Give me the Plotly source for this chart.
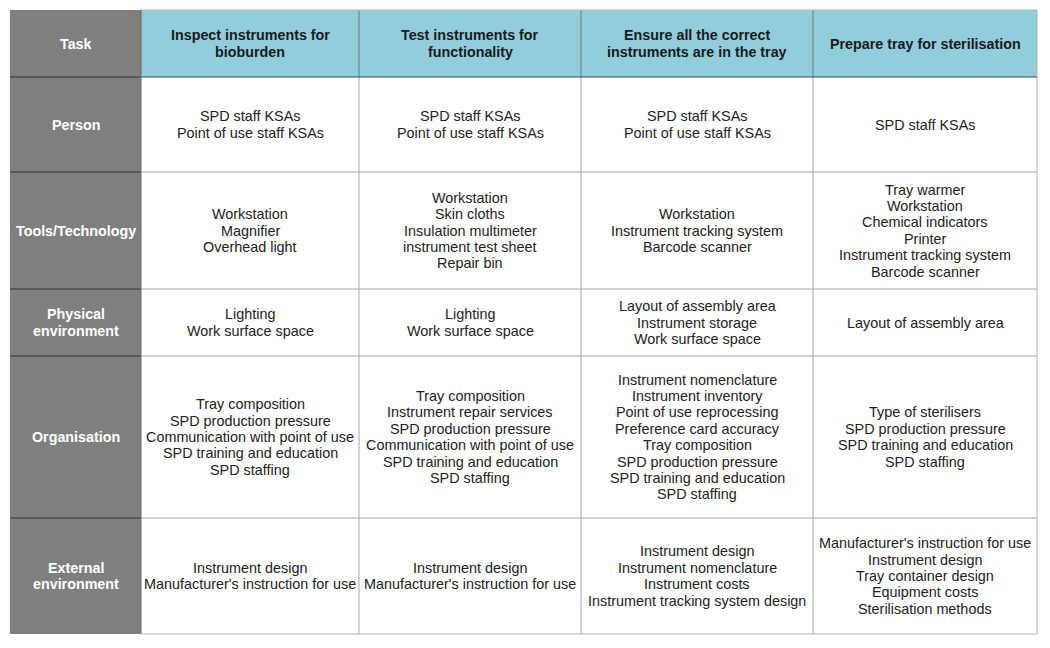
import plotly.graph_objects as go

# ---------------- data ----------------
corner_label = "Task"
tasks = [
    ["Inspect instruments for", "bioburden"],
    ["Test instruments for", "functionality"],
    ["Ensure all the correct", "instruments are in the tray"],
    ["Prepare tray for sterilisation"],
]
factors = [
    ["Person"],
    ["Tools/Technology"],
    ["Physical", "environment"],
    ["Organisation"],
    ["External", "environment"],
]
person = [
    ["SPD staff KSAs", "Point of use staff KSAs"],
    ["SPD staff KSAs", "Point of use staff KSAs"],
    ["SPD staff KSAs", "Point of use staff KSAs"],
    ["SPD staff KSAs"],
]
tools = [
    ["Workstation", "Magnifier", "Overhead light"],
    ["Workstation", "Skin cloths", "Insulation multimeter", "instrument test sheet", "Repair bin"],
    ["Workstation", "Instrument tracking system", "Barcode scanner"],
    ["Tray warmer", "Workstation", "Chemical indicators", "Printer",
     "Instrument tracking system", "Barcode scanner"],
]
physical = [
    ["Lighting", "Work surface space"],
    ["Lighting", "Work surface space"],
    ["Layout of assembly area", "Instrument storage", "Work surface space"],
    ["Layout of assembly area"],
]
organisation = [
    ["Tray composition", "SPD production pressure", "Communication with point of use",
     "SPD training and education", "SPD staffing"],
    ["Tray composition", "Instrument repair services", "SPD production pressure",
     "Communication with point of use", "SPD training and education", "SPD staffing"],
    ["Instrument nomenclature", "Instrument inventory", "Point of use reprocessing",
     "Preference card accuracy", "Tray composition", "SPD production pressure",
     "SPD training and education", "SPD staffing"],
    ["Type of sterilisers", "SPD production pressure", "SPD training and education",
     "SPD staffing"],
]
external = [
    ["Instrument design", "Manufacturer's instruction for use"],
    ["Instrument design", "Manufacturer's instruction for use"],
    ["Instrument design", "Instrument nomenclature", "Instrument costs",
     "Instrument tracking system design"],
    ["Manufacturer's instruction for use", "Instrument design", "Tray container design",
     "Equipment costs", "Sterilisation methods"],
]
body_rows = [person, tools, physical, organisation, external]

# ---------------- layout (pixel-space grid) ----------------
W, H = 1050, 648
OFF = 8  # page body margin
col_edges = [10, 141, 359, 581, 813, 1037]
row_edges = [10, 77, 172, 289, 356, 518, 634]
LINE = 16.4
FONT = "Liberation Sans, Arial, sans-serif"
GRAY = "#7f7f7f"
BLUE = "#92cddc"
BODY_LINE = "#a6a6a6"
DARK_LINE = "#4d4d4d"

fig = go.Figure()
fig.add_trace(go.Scatter(x=[OFF, W + OFF], y=[OFF, H + OFF], mode="markers",
                         marker=dict(opacity=0), hoverinfo="skip", showlegend=False))

shapes = []
annotations = []

def rect(x0, x1, y0, y1, color):
    shapes.append(dict(type="rect", xref="x", yref="y", x0=x0, x1=x1, y0=y0, y1=y1,
                       fillcolor=color, line=dict(width=0), layer="below"))

def line(x0, y0, x1, y1, color, width):
    shapes.append(dict(type="line", xref="x", yref="y", x0=x0, x1=x1, y0=y0, y1=y1,
                       line=dict(color=color, width=width)))

def cell_text(lines, c, r, color, bold, size):
    xc = (col_edges[c] + col_edges[c + 1]) / 2
    yc = (row_edges[r] + row_edges[r + 1]) / 2
    n = len(lines)
    for i, t in enumerate(lines):
        y = yc + (i - (n - 1) / 2) * LINE
        annotations.append(dict(x=xc, y=y, xref="x", yref="y", text=f"<b>{t}</b>" if bold else t,
                                showarrow=False, xanchor="center", yanchor="middle",
                                font=dict(family=FONT, size=size, color=color)))

# fills
rect(col_edges[0], col_edges[1], row_edges[0], row_edges[-1], GRAY)
rect(col_edges[1], col_edges[-1], row_edges[0], row_edges[1], BLUE)

# body grid lines
for r in row_edges[2:-1]:
    line(col_edges[1], r, col_edges[-1], r, BODY_LINE, 1)
for c in col_edges[2:-1]:
    line(c, row_edges[1], c, row_edges[-1], BODY_LINE, 1)
# header vertical lines
for c in col_edges[2:-1]:
    line(c, row_edges[0], c, row_edges[1], "#5a7f8a", 1)
# outer border
line(col_edges[-1], row_edges[0], col_edges[-1], row_edges[-1], "#b0b0b0", 1)
line(col_edges[1], row_edges[-1], col_edges[-1], row_edges[-1], "#b0b0b0", 1)
line(col_edges[1], row_edges[0], col_edges[-1], row_edges[0], "#b0b0b0", 1)
# dark lines in gray column and under header
for r in row_edges[1:-1]:
    line(col_edges[0], r, col_edges[1], r, DARK_LINE, 1.5)
line(col_edges[1], row_edges[1], col_edges[-1], row_edges[1], "#3f4a4d", 1.2)
line(col_edges[1], row_edges[0], col_edges[1], row_edges[-1], "#6b6b6b", 1)

# texts
cell_text([corner_label], 0, 0, "white", True, 14.3)
for j, t in enumerate(tasks):
    cell_text(t, j + 1, 0, "#1a1a1a", True, 14.3)
for i, f in enumerate(factors):
    cell_text(f, 0, i + 1, "white", True, 14.3)
    for j, content in enumerate(body_rows[i]):
        cell_text(content, j + 1, i + 1, "#222222", False, 14.4)

fig.update_layout(
    width=W, height=H, margin=dict(l=0, r=0, t=0, b=0),
    paper_bgcolor="white", plot_bgcolor="white",
    xaxis=dict(range=[OFF, W + OFF], visible=False, fixedrange=True),
    yaxis=dict(range=[H + OFF, OFF], visible=False, fixedrange=True),
    shapes=shapes, annotations=annotations, showlegend=False,
)
fig.write_html("out.html")
